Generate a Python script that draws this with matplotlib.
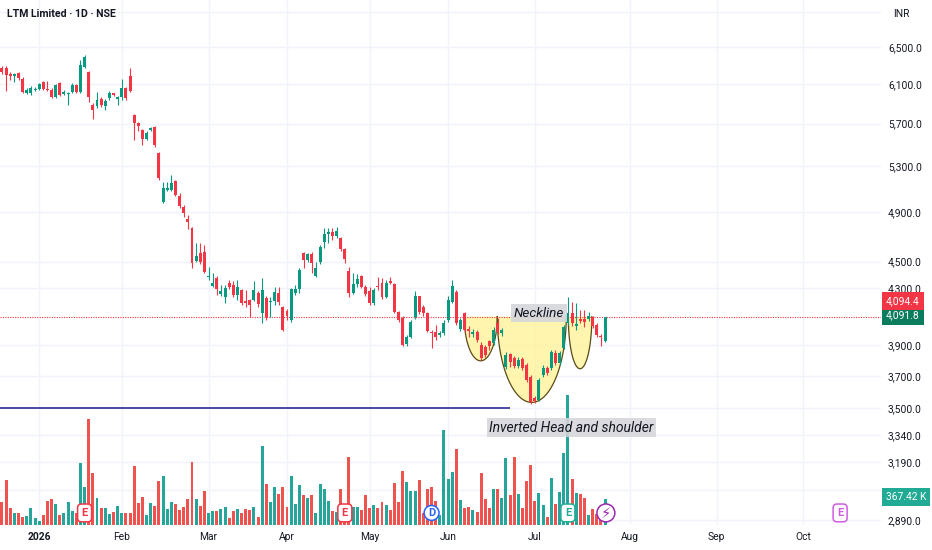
import numpy as np
import matplotlib.pyplot as plt
import matplotlib.transforms as mtrans

plt.rcParams['font.family'] = ['Roboto', 'DejaVu Sans']

# daily candles, LTM Limited (NSE), mid Dec 2025 -> late Jul 2026
opens = [6270, 6270, 6206, 6185, 6217, 6154, 6007, 6007, 6038, 6048,
         6122, 6048, 6038, 5967, 6112, 5997, 5997, 6018, 6091, 6018,
         6281, 6227, 5886, 5875, 5946, 5875, 5957, 6007, 5946, 5967,
         6059, 6185, 5786, 5707, 5638, 5552, 5638, 5668, 5420, 4984,
         5087, 5087, 5166, 5035, 4941, 4840, 4766, 4504, 4567, 4574,
         4382, 4316, 4375, 4257, 4235, 4338, 4323, 4250, 4286, 4206,
         4213, 4213, 4264, 4120, 4228, 4199, 4206, 4264, 4163, 4135,
         4071, 4264, 4293, 4567, 4512, 4559, 4390, 4497, 4653, 4718,
         4734, 4701, 4685, 4598, 4428, 4264, 4330, 4390, 4308, 4279,
         4192, 4316, 4338, 4235, 4353, 4330, 4128, 4085, 3907, 3954,
         4092, 4242, 4163, 4120, 3988, 3988, 3968, 3981, 4071, 4199,
         4272, 4009, 4120, 4009, 3975, 3988, 3900, 3887, 3927, 3913,
         4050, 3981, 3757, 3841, 3815, 3763, 3808, 3769, 3692, 3562,
         3550, 3705, 3750, 3750, 3847, 3782, 3880, 4050, 4120, 4029,
         4078, 4078, 4078, 4085, 4036, 3961, 3927]
highs = [6292, 6292, 6227, 6217, 6227, 6175, 6059, 6080, 6069, 6112,
         6133, 6133, 6059, 6101, 6122, 6038, 6018, 6112, 6101, 6357,
         6412, 6238, 5906, 6018, 5967, 5946, 6028, 6010, 5977, 6154,
         6069, 6270, 5796, 5717, 5648, 5628, 5668, 5677, 5429, 5157,
         5157, 5220, 5175, 5061, 4958, 4874, 4775, 4645, 4645, 4630,
         4458, 4412, 4390, 4323, 4323, 4360, 4353, 4360, 4293, 4286,
         4220, 4353, 4279, 4375, 4242, 4235, 4308, 4308, 4170, 4149,
         4301, 4323, 4450, 4574, 4567, 4574, 4497, 4630, 4766, 4766,
         4766, 4775, 4693, 4606, 4458, 4412, 4405, 4398, 4323, 4308,
         4301, 4382, 4375, 4360, 4382, 4338, 4135, 4099, 3968, 4071,
         4279, 4245, 4178, 4128, 4002, 4036, 3995, 4071, 4242, 4360,
         4286, 4085, 4128, 4029, 4009, 4002, 3920, 3900, 3934, 4022,
         4085, 4016, 3854, 3847, 3828, 3821, 3821, 3782, 3705, 3574,
         3686, 3769, 3763, 3867, 3867, 3860, 4036, 4235, 4199, 4192,
         4142, 4142, 4128, 4099, 4050, 3975, 4095]
lows = [6206, 6028, 6143, 6122, 6143, 6007, 5997, 5987, 6028, 6038,
        6038, 6028, 5957, 5957, 5977, 5987, 5886, 6007, 6007, 6007,
        6270, 5916, 5746, 5855, 5865, 5835, 5936, 5977, 5886, 5936,
        5936, 6018, 5542, 5628, 5495, 5542, 5628, 5476, 5175, 4976,
        5078, 5078, 5035, 4933, 4857, 4758, 4450, 4497, 4481, 4412,
        4360, 4308, 4250, 4242, 4192, 4293, 4235, 4213, 4178, 4163,
        4092, 4206, 4163, 4050, 4071, 4092, 4178, 4178, 3995, 4071,
        4057, 4250, 4264, 4450, 4497, 4412, 4382, 4481, 4606, 4645,
        4669, 4685, 4582, 4489, 4235, 4257, 4308, 4301, 4242, 4178,
        4178, 4286, 4220, 4228, 4330, 4120, 4057, 3894, 3894, 3947,
        4078, 4113, 4099, 3988, 3880, 3934, 3954, 3968, 4057, 4192,
        4036, 3995, 3988, 3954, 3954, 3920, 3802, 3821, 3867, 3900,
        3975, 3961, 3744, 3757, 3750, 3750, 3737, 3661, 3526, 3532,
        3544, 3692, 3705, 3737, 3769, 3769, 3874, 4036, 4029, 4002,
        4050, 4022, 4064, 4016, 3954, 3894, 3920]
closes = [6227, 6196, 6185, 6206, 6164, 6018, 6038, 6059, 6048, 6101,
          6048, 6038, 5967, 6091, 5987, 6018, 6007, 6091, 6018, 6303,
          6390, 5967, 5835, 5936, 5886, 5926, 6007, 5987, 5967, 6059,
          5957, 6028, 5707, 5677, 5552, 5609, 5658, 5495, 5193, 5105,
          5105, 5148, 5044, 4950, 4891, 4816, 4489, 4543, 4497, 4420,
          4390, 4338, 4293, 4279, 4301, 4308, 4250, 4308, 4192, 4192,
          4178, 4286, 4184, 4286, 4092, 4206, 4272, 4199, 4002, 4099,
          4293, 4293, 4435, 4512, 4559, 4489, 4450, 4614, 4718, 4734,
          4701, 4742, 4598, 4520, 4264, 4330, 4368, 4308, 4257, 4192,
          4286, 4308, 4235, 4338, 4338, 4128, 4071, 3900, 3954, 4057,
          4242, 4128, 4120, 3995, 3981, 3954, 3981, 4050, 4213, 4316,
          4050, 4071, 4002, 3995, 3988, 3934, 3815, 3834, 3894, 4002,
          3988, 4002, 3835, 3789, 3763, 3802, 3750, 3673, 3538, 3544,
          3673, 3750, 3718, 3854, 3782, 3847, 4022, 4120, 4050, 4043,
          4064, 4057, 4099, 4029, 3968, 3954, 4091.8]
# volume in thousands of shares
volume_k = [321, 636, 240, 165, 174, 117, 131, 240, 99, 61,
            137, 335, 367, 292, 146, 174, 329, 202, 165, 876,
            537, 1498, 735, 382, 240, 240, 155, 188, 268, 174,
            174, 174, 829, 307, 400, 146, 315, 273, 626, 692,
            222, 321, 297, 212, 250, 367, 886, 367, 273, 476,
            174, 194, 194, 230, 259, 99, 194, 230, 165, 226,
            212, 250, 109, 1121, 579, 325, 541, 438, 533, 259,
            697, 297, 569, 428, 382, 424, 174, 579, 513, 343,
            194, 188, 513, 194, 965, 259, 259, 212, 424, 240,
            287, 240, 329, 287, 212, 589, 329, 767, 612, 476,
            485, 636, 170, 509, 541, 343, 141, 1342, 646, 753,
            1074, 356, 247, 259, 208, 188, 735, 363, 244, 513,
            504, 386, 942, 420, 961, 434, 244, 622, 848, 339,
            448, 283, 113, 660, 292, 471, 1022, 1837, 654, 456,
            442, 377, 137, 230, 160, 141, 367.42]

month_idx = [9, 29, 50, 69, 89, 108, 129, 152, 173, 194]
month_lbl = ['2026', 'Feb', 'Mar', 'Apr', 'May', 'Jun', 'Jul', 'Aug', 'Sep', 'Oct']
price_ticks = [6500, 6100, 5700, 5300, 4900, 4500, 4300, 3900, 3700,
               3500, 3340, 3190, 2890]
grid_prices = [6900, 6500, 6100, 5700, 5300, 4900, 4500, 4300, 3900, 3700,
               3500, 3340, 3190, 3040, 2890]

neck_price = 4094.4
last_price = 4091.8
support_price = 3500

UP, DN = '#089981', '#f23645'
VUP, VDN = '#26a69a', '#ef5350'
GRID = '#f0f3fa'
TXT = '#131722'
FS = 7.4

x = np.arange(len(closes))
o = np.array(opens, float)
c = np.array(closes, float)
up = c >= o

fig = plt.figure(figsize=(9.32, 5.5), dpi=100)
ax = fig.add_axes([0, 25 / 550, 881 / 932, 525 / 550])
axv = ax.twinx()
ax.set_zorder(axv.get_zorder() + 1)
ax.patch.set_visible(False)

ax.set_yscale('log')
ax.set_xlim(-0.48, 212.8)
ax.set_ylim(2865, 7045)
axv.set_ylim(0, 7419)

# grid lives on the lower (volume) axes so it sits behind everything
for m in month_idx:
    axv.axvline(m, color=GRID, lw=1, zorder=0)
gt = mtrans.blended_transform_factory(axv.transAxes, ax.transData)
for p in grid_prices:
    axv.plot([0, 1], [p, p], transform=gt, color=GRID, lw=1, zorder=0)

# volume
axv.bar(x, volume_k, 0.72, color=np.where(up, VUP, VDN), linewidth=0, zorder=1)
axv.set_yticks([])
for s in axv.spines.values():
    s.set_visible(False)

# candles
cols = np.where(up, UP, DN)
ax.vlines(x, lows, highs, colors=cols, lw=0.8, zorder=4)
bot = np.minimum(o, c)
hgt = np.maximum(np.abs(c - o), bot * 0.002)
ax.bar(x, hgt, 0.72, bottom=bot, color=cols, linewidth=0, zorder=5)

# inverted head & shoulders arcs
def arc(i0, i1, p_low):
    t = np.linspace(0, np.pi, 120)
    xs = (i0 + i1) / 2 + (i1 - i0) / 2 * np.cos(t)
    ys = np.exp(np.log(neck_price) - (np.log(neck_price) - np.log(p_low)) * np.sin(t))
    ax.fill(xs, ys, color='#fff39a', alpha=0.8, lw=0, zorder=2)
    ax.plot(xs, ys, color='#5b4a16', lw=0.9, zorder=3)

arc(111.9, 119.9, 3796)
arc(119.9, 136.6, 3535)
arc(137.1, 142.8, 3745)

ax.axhline(neck_price, color=DN, lw=0.8, ls=(0, (1, 1.2)), zorder=3)
ax.hlines(support_price, -0.48, 123, color='#3f3a9e', lw=1.3, zorder=3)

ax.text(130, 4120, 'Neckline', style='italic', fontsize=9.7, color=TXT,
        ha='center', va='center', zorder=6,
        bbox=dict(boxstyle='square,pad=0.18', fc='#d6d7db', ec='none', alpha=0.92))
ax.text(137.8, 3386, 'Inverted Head and shoulder', style='italic', fontsize=10,
        color=TXT, ha='center', va='center', zorder=6,
        bbox=dict(boxstyle='square,pad=0.18', fc='#d6d7db', ec='none', alpha=0.88))

# axes styling
for s in ax.spines.values():
    s.set_visible(False)
ax.yaxis.tick_right()
ax.set_yticks(price_ticks)
ax.set_yticklabels([f'{p:,.1f}' for p in price_ticks])
ax.yaxis.set_minor_locator(plt.NullLocator())
ax.tick_params(axis='y', length=0, pad=5, labelsize=FS, labelcolor=TXT)
ax.set_xticks(month_idx)
ax.set_xticklabels(month_lbl)
ax.tick_params(axis='x', length=0, pad=5, labelsize=FS, labelcolor=TXT)
ax.get_xticklabels()[0].set_fontweight('bold')

# right-side price / volume tags
rt = mtrans.blended_transform_factory(ax.transAxes, ax.transData)
ax.annotate(f'{last_price:,.1f}', xy=(1, last_price), xycoords=rt,
            xytext=(3.6, 1), textcoords='offset points', ha='left', va='center',
            fontsize=FS, color='white', annotation_clip=False, zorder=8,
            bbox=dict(boxstyle='square,pad=0.38', fc='#0b7d5e', ec='none'))
ax.annotate(f'{neck_price:,.1f}', xy=(1, neck_price), xycoords=rt,
            xytext=(3.6, 11.3), textcoords='offset points', ha='left', va='center',
            fontsize=FS, color='white', annotation_clip=False, zorder=8,
            bbox=dict(boxstyle='square,pad=0.38', fc=DN, ec='none'))
vt = mtrans.blended_transform_factory(ax.transAxes, axv.transData)
ax.annotate(f'{volume_k[-1]:.2f} K', xy=(1, volume_k[-1]), xycoords=vt,
            xytext=(3.6, 1.5), textcoords='offset points', ha='left', va='center',
            fontsize=FS, color='white', annotation_clip=False, zorder=8,
            bbox=dict(boxstyle='square,pad=0.38', fc='#22ab94', ec='none'))

# event markers along the bottom
et = mtrans.blended_transform_factory(ax.transData, ax.transAxes)
events = [(20, 'E', DN, 'round,pad=0.35', 8), (83, 'E', DN, 'round,pad=0.35', 8),
          (104, 'D', '#2962ff', 'circle,pad=0.22', 8),
          (137, 'E', '#22ab94', 'round,pad=0.35', 8),
          (146.2, '\u26a1', '#9c27b0', 'circle,pad=0.1', 10.5),
          (202.9, 'E', '#d05ce3', 'round,pad=0.35', 8)]
for ex, lab, col, bs, fs in events:
    ax.text(ex, 0.023, lab, transform=et, ha='center', va='center', fontsize=fs,
            fontweight='bold', color=col, zorder=9, clip_on=False,
            family=['DejaVu Sans'] if lab == '\u26a1' else None,
            bbox=dict(boxstyle=bs, fc='white', ec=col, lw=1.1))

fig.text(7 / 932, 1 - 14 / 550, 'LTM Limited \u00b7 1D \u00b7 NSE', fontsize=7.6,
         fontweight='semibold', color=TXT, va='center', ha='left')
fig.text(893 / 932, 1 - 14 / 550, 'INR', fontsize=FS, color=TXT, va='center', ha='left')

fig.savefig('out.png', dpi=100, facecolor='white')
